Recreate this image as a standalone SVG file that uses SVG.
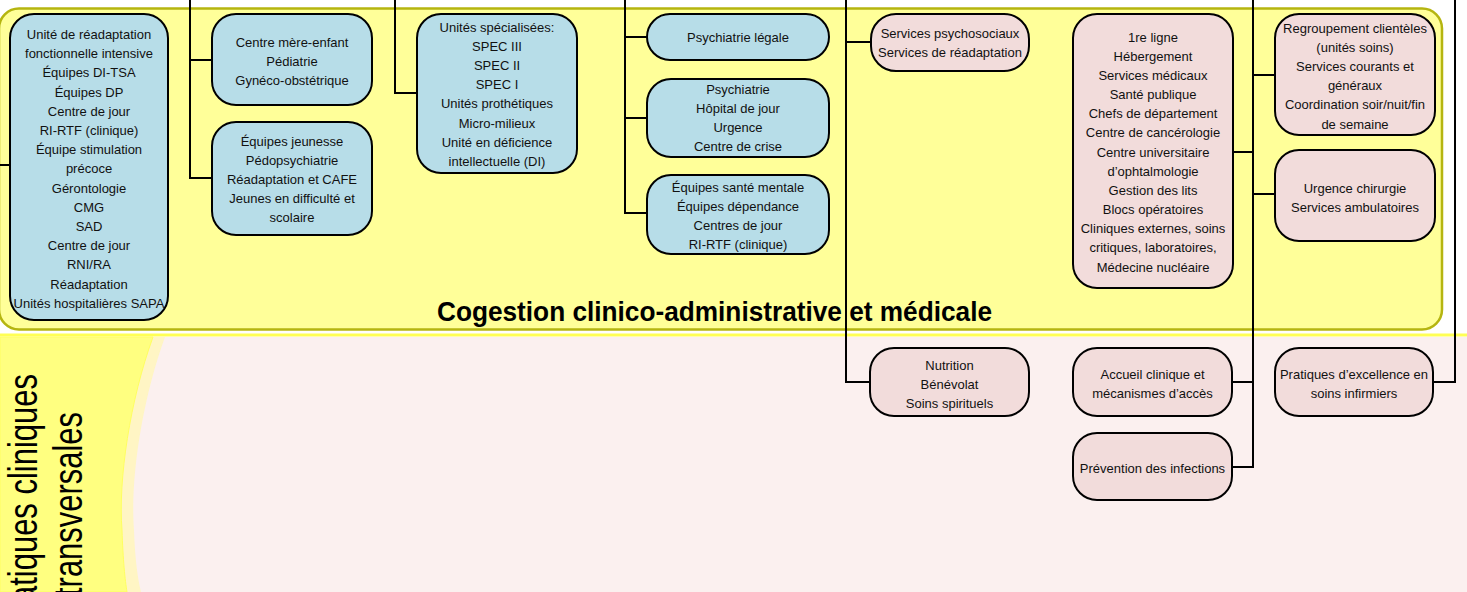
<svg xmlns="http://www.w3.org/2000/svg" width="1467" height="592" viewBox="0 0 1467 592">
<style>
.bg{fill:#ffffff}
.panel{fill:#ffff99;stroke:#b5b510;stroke-width:2.5}
.blue{fill:#b7dde8;stroke:#000;stroke-width:2}
.pink{fill:#f2dcdb;stroke:#000;stroke-width:2}
.t{font-family:"Liberation Sans",Arial,sans-serif;font-size:13px;fill:#111;text-anchor:middle}
.big{font-family:"Liberation Sans",Arial,sans-serif;font-size:28px;font-weight:bold;fill:#000;text-anchor:middle}
.vt{font-family:"Liberation Sans",Arial,sans-serif;font-size:40px;fill:#000;text-anchor:middle}
.c{fill:none;stroke:#000;stroke-width:2}
</style>
<rect class="bg" x="0" y="0" width="1467" height="592"/>
<!-- lower band -->
<rect x="0" y="337" width="1467" height="255" fill="#fbf0ef"/>
<path d="M0,337 H165 C142,400 130,480 134,530 C135,560 138,580 141,592 H0 Z" fill="#fff5c4"/>
<path d="M0,337 H153 C130,400 118,480 122,530 C123,560 125,580 127,592 H0 Z" fill="#ffff80" stroke="#ffff60" stroke-width="1"/>
<rect x="0" y="333.5" width="1467" height="3" fill="#ffff55"/>
<text class="vt" transform="translate(37,504) rotate(-90)" textLength="260" lengthAdjust="spacingAndGlyphs">Pratiques cliniques</text>
<text class="vt" transform="translate(82,504) rotate(-90)" textLength="184" lengthAdjust="spacingAndGlyphs">transversales</text>
<!-- top panel -->
<rect class="panel" x="-1" y="8.5" width="1443" height="321" rx="20"/>
<text class="big" x="714.5" y="321" textLength="555" lengthAdjust="spacingAndGlyphs">Cogestion clinico-administrative et médicale</text>
<!-- connectors -->
<g id="connectors">
<path class="c" d="M0,165 H10"/>
<path class="c" d="M190,0 V178 H212 M190,60 H212"/>
<path class="c" d="M395,0 V93 H417"/>
<path class="c" d="M625,0 V213 H647 M625,37 H647 M625,118 H647"/>
<path class="c" d="M846,0 V382 H870 M846,42 H871"/>
<path class="c" d="M1253,0 V467 H1232 M1253,75 H1275 M1253,152 H1233 M1253,194 H1275 M1253,382 H1232"/>
<path class="c" d="M1455,0 V382 H1433"/>
</g>
<!-- nodes -->
<g id="n1">
<rect class="blue" x="10" y="14" width="158" height="306" rx="24"/>
<text class="t" x="89" y="39">Unité de réadaptation</text>
<text class="t" x="89" y="58.2">fonctionnelle intensive</text>
<text class="t" x="89" y="77.4">Équipes DI-TSA</text>
<text class="t" x="89" y="96.6">Équipes DP</text>
<text class="t" x="89" y="115.8">Centre de jour</text>
<text class="t" x="89" y="135">RI-RTF (clinique)</text>
<text class="t" x="89" y="154.2">Équipe stimulation</text>
<text class="t" x="89" y="173.4">précoce</text>
<text class="t" x="89" y="192.6">Gérontologie</text>
<text class="t" x="89" y="211.8">CMG</text>
<text class="t" x="89" y="231">SAD</text>
<text class="t" x="89" y="250.2">Centre de jour</text>
<text class="t" x="89" y="269.4">RNI/RA</text>
<text class="t" x="89" y="288.6">Réadaptation</text>
<text class="t" x="89" y="307.8">Unités hospitalières SAPA</text>
</g>
<g id="n2">
<rect class="blue" x="212" y="14" width="160" height="91" rx="24"/>
<text class="t" x="292" y="46.5">Centre mère-enfant</text>
<text class="t" x="292" y="65.7">Pédiatrie</text>
<text class="t" x="292" y="84.9">Gynéco-obstétrique</text>
</g>
<g id="n3">
<rect class="blue" x="212" y="122" width="160" height="113" rx="24"/>
<text class="t" x="292" y="145.5">Équipes jeunesse</text>
<text class="t" x="292" y="164.7">Pédopsychiatrie</text>
<text class="t" x="292" y="183.9">Réadaptation et CAFE</text>
<text class="t" x="292" y="203.1">Jeunes en difficulté et</text>
<text class="t" x="292" y="222.3">scolaire</text>
</g>
<g id="n4">
<rect class="blue" x="417" y="14" width="160" height="159" rx="24"/>
<text class="t" x="497" y="31.5">Unités spécialisées:</text>
<text class="t" x="497" y="50.7">SPEC III</text>
<text class="t" x="497" y="69.9">SPEC II</text>
<text class="t" x="497" y="89.1">SPEC I</text>
<text class="t" x="497" y="108.3">Unités prothétiques</text>
<text class="t" x="497" y="127.5">Micro-milieux</text>
<text class="t" x="497" y="146.7">Unité en déficience</text>
<text class="t" x="497" y="165.9">intellectuelle (DI)</text>
</g>
<g id="n5">
<rect class="blue" x="647" y="14" width="182" height="46" rx="23"/>
<text class="t" x="738" y="41.5">Psychiatrie légale</text>
</g>
<g id="n6">
<rect class="blue" x="647" y="79" width="182" height="78" rx="24"/>
<text class="t" x="738" y="93.5">Psychiatrie</text>
<text class="t" x="738" y="112.7">Hôpital de jour</text>
<text class="t" x="738" y="131.9">Urgence</text>
<text class="t" x="738" y="151.1">Centre de crise</text>
</g>
<g id="n7">
<rect class="blue" x="647" y="175" width="182" height="79" rx="24"/>
<text class="t" x="738" y="191.5">Équipes santé mentale</text>
<text class="t" x="738" y="210.7">Équipes dépendance</text>
<text class="t" x="738" y="229.9">Centres de jour</text>
<text class="t" x="738" y="249.1">RI-RTF (clinique)</text>
</g>
<g id="n8">
<rect class="pink" x="871" y="14" width="158" height="57" rx="25"/>
<text class="t" x="950" y="37.5">Services psychosociaux</text>
<text class="t" x="950" y="56.7">Services de réadaptation</text>
</g>
<g id="n9">
<rect class="pink" x="1073" y="14" width="160" height="274" rx="24"/>
<text class="t" x="1153" y="41.5">1re ligne</text>
<text class="t" x="1153" y="60.7">Hébergement</text>
<text class="t" x="1153" y="79.8">Services médicaux</text>
<text class="t" x="1153" y="99">Santé publique</text>
<text class="t" x="1153" y="118.2">Chefs de département</text>
<text class="t" x="1153" y="137.3">Centre de cancérologie</text>
<text class="t" x="1153" y="156.5">Centre universitaire</text>
<text class="t" x="1153" y="175.7">d’ophtalmologie</text>
<text class="t" x="1153" y="194.9">Gestion des lits</text>
<text class="t" x="1153" y="214">Blocs opératoires</text>
<text class="t" x="1153" y="233.2">Cliniques externes, soins</text>
<text class="t" x="1153" y="252.4">critiques, laboratoires,</text>
<text class="t" x="1153" y="271.5">Médecine nucléaire</text>
</g>
<g id="n10">
<rect class="pink" x="1275" y="14" width="160" height="121" rx="24"/>
<text class="t" x="1355" y="32.5">Regroupement clientèles</text>
<text class="t" x="1355" y="51.7">(unités soins)</text>
<text class="t" x="1355" y="70.9">Services courants et</text>
<text class="t" x="1355" y="90.1">généraux</text>
<text class="t" x="1355" y="109.3">Coordination soir/nuit/fin</text>
<text class="t" x="1355" y="128.5">de semaine</text>
</g>
<g id="n11">
<rect class="pink" x="1275" y="150" width="160" height="91" rx="24"/>
<text class="t" x="1355" y="192.5">Urgence chirurgie</text>
<text class="t" x="1355" y="211.7">Services ambulatoires</text>
</g>
<g id="n12">
<rect class="pink" x="870" y="348" width="159" height="68" rx="24"/>
<text class="t" x="949.5" y="369.5">Nutrition</text>
<text class="t" x="949.5" y="388.7">Bénévolat</text>
<text class="t" x="949.5" y="407.9">Soins spirituels</text>
</g>
<g id="n13">
<rect class="pink" x="1073" y="348" width="159" height="68" rx="24"/>
<text class="t" x="1152.5" y="378.5">Accueil clinique et</text>
<text class="t" x="1152.5" y="397.7">mécanismes d’accès</text>
</g>
<g id="n14">
<rect class="pink" x="1073" y="433" width="159" height="67" rx="24"/>
<text class="t" x="1152.5" y="472.5">Prévention des infections</text>
</g>
<g id="n15">
<rect class="pink" x="1275" y="348" width="158" height="68" rx="24"/>
<text class="t" x="1354" y="378.5">Pratiques d’excellence en</text>
<text class="t" x="1354" y="397.7">soins infirmiers</text>
</g>
</svg>
